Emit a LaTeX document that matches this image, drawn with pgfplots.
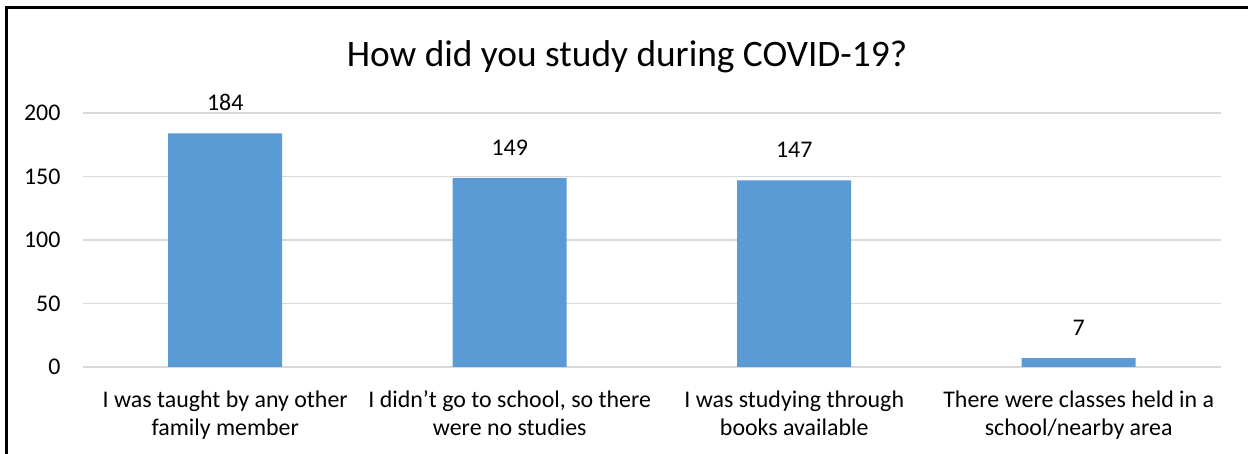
\documentclass[border=0pt]{standalone}
\usepackage{fontspec}
\setmainfont{Carlito}
\usepackage{pgfplots}
\pgfplotsset{compat=1.18}
\definecolor{barblue}{HTML}{5B9BD5}
\definecolor{gridgray}{HTML}{D9D9D9}
\begin{document}
\begin{tikzpicture}[x=1bp,y=1bp]
\path[use as bounding box] (0,0) rectangle (1248,454);
% chart frame (left and top edges)
\draw[line width=2.5bp, black] (6.5,0) -- (6.5,446.5) -- (1248,446.5);
\begin{axis}[
  at={(83bp,87bp)}, anchor=south west,
  scale only axis, width=1138bp, height=254bp,
  xmin=-0.5, xmax=3.5, ymin=0, ymax=200,
  ybar, bar width=114bp,
  axis line style={draw=none},
  ymajorgrids, grid style={draw=gridgray, line width=1.3bp},
  ytick={0,50,100,150,200},
  xtick={0,1,2,3},
  xticklabels={{I was taught by any other\\family member},
               {I didn’t go to school, so there\\were no studies},
               {I was studying through\\books available},
               {There were classes held in a\\school/nearby area}},
  xticklabel style={align=center, anchor=north, yshift=-20bp,
    font=\fontsize{24}{28.5}\selectfont, text=black},
  yticklabel style={anchor=east, xshift=-19bp,
    font=\fontsize{24}{28.5}\selectfont, text=black},
  /pgf/number format/assume math mode=true,
  major tick length=0pt,
  nodes near coords,
  nodes near coords style={font=\fontsize{24}{28.5}\selectfont, text=black, yshift=19bp},
  clip=false,
]
\addplot[fill=barblue, draw=none] coordinates {(0,184) (1,149) (2,147) (3,7)};
\end{axis}
\node[font=\fontsize{37.5}{44}\selectfont, text=black] at (627,397) {How did you study during COVID-19?};
\end{tikzpicture}
\end{document}
